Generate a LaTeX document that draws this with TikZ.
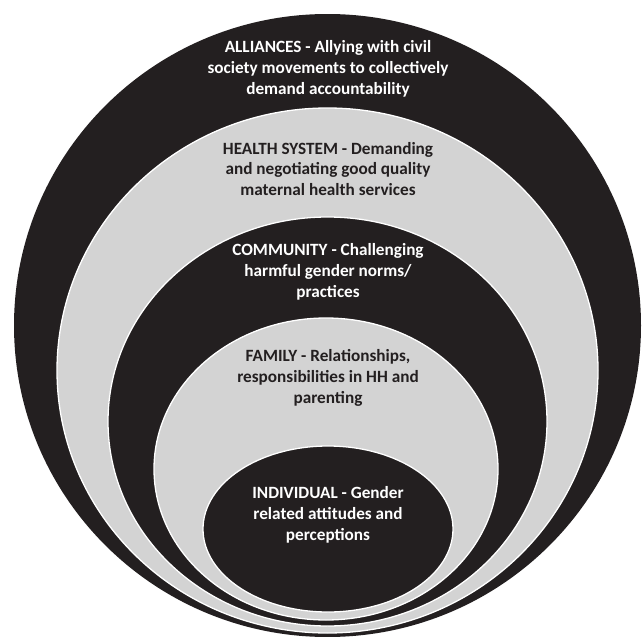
\documentclass[tikz,border=0pt]{standalone}
\usepackage{fontspec}
\setmainfont{Carlito}
\definecolor{ringdark}{HTML}{231F20}
\definecolor{ringlight}{HTML}{D3D3D3}
\begin{document}
\begin{tikzpicture}[x=1pt,y=-1pt,
  ringdarkstyle/.style={fill=ringdark,draw=white,line width=1.3pt},
  ringlightstyle/.style={fill=ringlight,draw=white,line width=1.3pt},
  labeltext/.style={align=center,font=\fontsize{17.2}{20.8}\selectfont\bfseries,inner sep=0pt},
  ondark/.style={labeltext,text=white},
  onlight/.style={labeltext,text=ringdark}]
\useasboundingbox (0,0) rectangle (643,637);
\fill[ringdark] (327.5,325.5) ellipse [x radius=313.5,y radius=311.5];
\filldraw[ringlightstyle] (327.5,370.5) ellipse [x radius=270.5,y radius=262.5];
\filldraw[ringdarkstyle] (327.5,421.5) ellipse [x radius=219.5,y radius=204.5];
\filldraw[ringlightstyle] (326,469) ellipse [x radius=172,y radius=151];
\filldraw[ringdarkstyle] (328,529) ellipse [x radius=125,y radius=83];
\node[ondark] (alliances) at (328,69) {ALLIANCES - Allying with civil\\society movements to collectively\\demand accountability};
\node[onlight] (health) at (328,169) {HEALTH SYSTEM - Demanding\\and negotiating good quality\\maternal health services};
\node[ondark] (community) at (328,272) {COMMUNITY - Challenging\\harmful gender norms/\\practices};
\node[onlight] (family) at (328,378) {FAMILY - Relationships,\\responsibilities in HH and\\parenting};
\node[ondark] (individual) at (328,515) {INDIVIDUAL - Gender\\related attitudes and\\perceptions};
\end{tikzpicture}
\end{document}
